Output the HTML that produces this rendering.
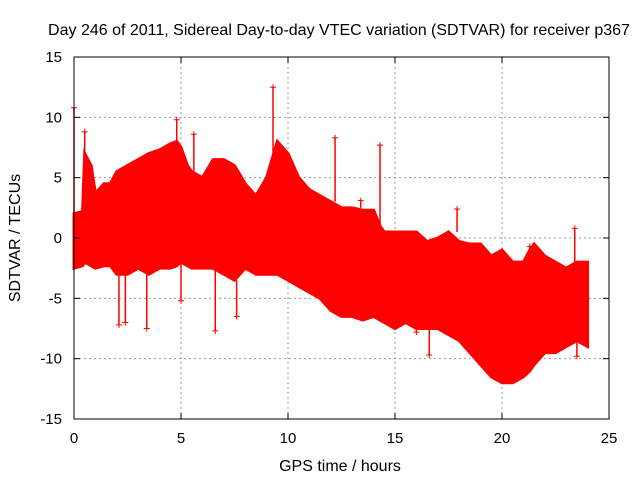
<!DOCTYPE html>
<html><head><meta charset="utf-8"><style>
body{margin:0;background:#fff;}
svg{display:block;font-family:"Liberation Sans",sans-serif;}
</style></head><body>
<svg id="chart" width="640" height="480">
<rect x="0" y="0" width="640" height="480" fill="#fff"/>
<g id="grid"></g><g id="band"></g><g id="spikes"></g><g id="axes"></g>
<text x="339" y="35" text-anchor="middle" font-size="16">Day 246 of 2011, Sidereal Day-to-day VTEC variation (SDTVAR) for receiver p367</text>
<text x="340" y="471" text-anchor="middle" font-size="16">GPS time / hours</text>
<text transform="translate(20,238) rotate(-90)" text-anchor="middle" font-size="16">SDTVAR / TECUs</text>
</svg>
<script>
const xTicks=[0,5,10,15,20,25];
const yTicks=[-15,-10,-5,0,5,10,15];
const times=[0,0.4,0.5,0.8,1.0,1.4,1.7,2,2.5,3,3.5,4,4.5,4.8,5,5.3,5.5,6,6.5,7,7.5,8,8.5,9,9.5,10,10.5,11,11.5,12,12.5,13,13.5,14,14.3,14.5,15,15.5,16,16.5,17,17.5,18,18.5,19,19.5,20,20.5,21,21.3,21.5,22,22.5,23,23.5,24];
const upper=[2,2.2,7,6,3.7,4.5,4.5,5.5,6,6.5,7,7.3,7.8,8,7.5,6,5.5,5,6.5,6.5,6,4.5,3.5,5,8,7,5,4,3.5,3,2.5,2.5,2.3,2.3,1,0.5,0.5,0.5,0.5,-0.3,0,0.5,-0.3,-0.5,-0.5,-1.5,-1,-2,-2,-1,-0.5,-1.5,-2,-2.5,-2,-2];
const lower=[-2.5,-2.3,-2,-2.3,-2.5,-2.3,-2.3,-3,-3,-2.5,-3,-2.5,-2.5,-2.3,-2,-2.3,-2.5,-2.5,-2.5,-3,-3.5,-2.5,-3,-3,-3,-3.5,-4,-4.5,-5,-6,-6.5,-6.5,-6.8,-6.5,-6.8,-7,-7.5,-7,-7.5,-7.5,-7.5,-8,-8.5,-9.5,-10.5,-11.5,-12,-12,-11.5,-11,-10.5,-9.5,-9.5,-9,-8.5,-9];
const spikeTimes=[0,0.5,2.1,2.4,3.4,4.8,5,5.6,6.6,7.6,9.3,12.2,13.4,14.3,16,16.6,17.9,21.3,23.4,23.5];
const spikeVals=[10.8,8.8,-7.2,-7,-7.5,9.8,-5.2,8.6,-7.7,-6.5,12.5,8.3,3.1,7.7,-7.8,-9.7,2.4,-0.7,0.8,-9.8];
const X0=74,X1=609,Y0=419,Y1=57;
const sx=v=>X0+(v-0)/(25-0)*(X1-X0);
const sy=v=>Y0-(v+15)/30*(Y0-Y1);
const NS='http://www.w3.org/2000/svg';
function mk(t,a,p){const e=document.createElementNS(NS,t);for(const k in a)e.setAttribute(k,a[k]);p.appendChild(e);return e;}
const grid=document.getElementById('grid'),axes=document.getElementById('axes'),band=document.getElementById('band'),sp=document.getElementById('spikes');
xTicks.forEach(v=>{
 if(v>0&&v<25){const l=mk('line',{x1:sx(v),x2:sx(v),y1:Y1,y2:Y0,stroke:'#999','stroke-dasharray':'2,3'},grid);
 
 }
 const t=mk('text',{x:sx(v),y:443,'text-anchor':'middle','font-size':15},axes);t.textContent=v;
 
 
 mk('line',{x1:sx(v),x2:sx(v),y1:Y0,y2:Y0-6,stroke:'#000'},axes);
 mk('line',{x1:sx(v),x2:sx(v),y1:Y1,y2:Y1+6,stroke:'#000'},axes);
});
yTicks.forEach(v=>{
 if(v>-15&&v<15){const l=mk('line',{x1:X0,x2:X1,y1:sy(v),y2:sy(v),stroke:'#999','stroke-dasharray':'2,3'},grid);
 
 }
 const t=mk('text',{x:62,y:sy(v)+5,'text-anchor':'end','font-size':15},axes);t.textContent=v;
 
 
 mk('line',{x1:X0,x2:X0+6,y1:sy(v),y2:sy(v),stroke:'#000'},axes);
 mk('line',{x1:X1,x2:X1-6,y1:sy(v),y2:sy(v),stroke:'#000'},axes);
});
const frame=mk('rect',{x:X0,y:Y1,width:X1-X0,height:Y0-Y1,fill:'none',stroke:'#000'},axes);


let pts=times.map((t,i)=>sx(t)+','+sy(upper[i]));
for(let i=times.length-1;i>=0;i--)pts.push(sx(times[i])+','+sy(lower[i]));
const poly=mk('polygon',{points:pts.join(' '),fill:'#f00',stroke:'#f00','stroke-width':3},band);


spikeTimes.forEach((t,i)=>{
 const v=spikeVals[i];let j=0;while(j<times.length-1&&times[j+1]<=t)j++;
 const base=v>0?upper[j]:lower[j];
 const g=mk('g',{},sp);
 
 
 mk('line',{x1:sx(t),x2:sx(t),y1:sy(base),y2:sy(v),stroke:'#f00','stroke-width':1.5},g);
 mk('line',{x1:sx(t)-3,x2:sx(t)+3,y1:sy(v),y2:sy(v),stroke:'#f00'},g);
 mk('line',{x1:sx(t),x2:sx(t),y1:sy(v)-3,y2:sy(v)+3,stroke:'#f00'},g);
});
</script>
</body></html>
